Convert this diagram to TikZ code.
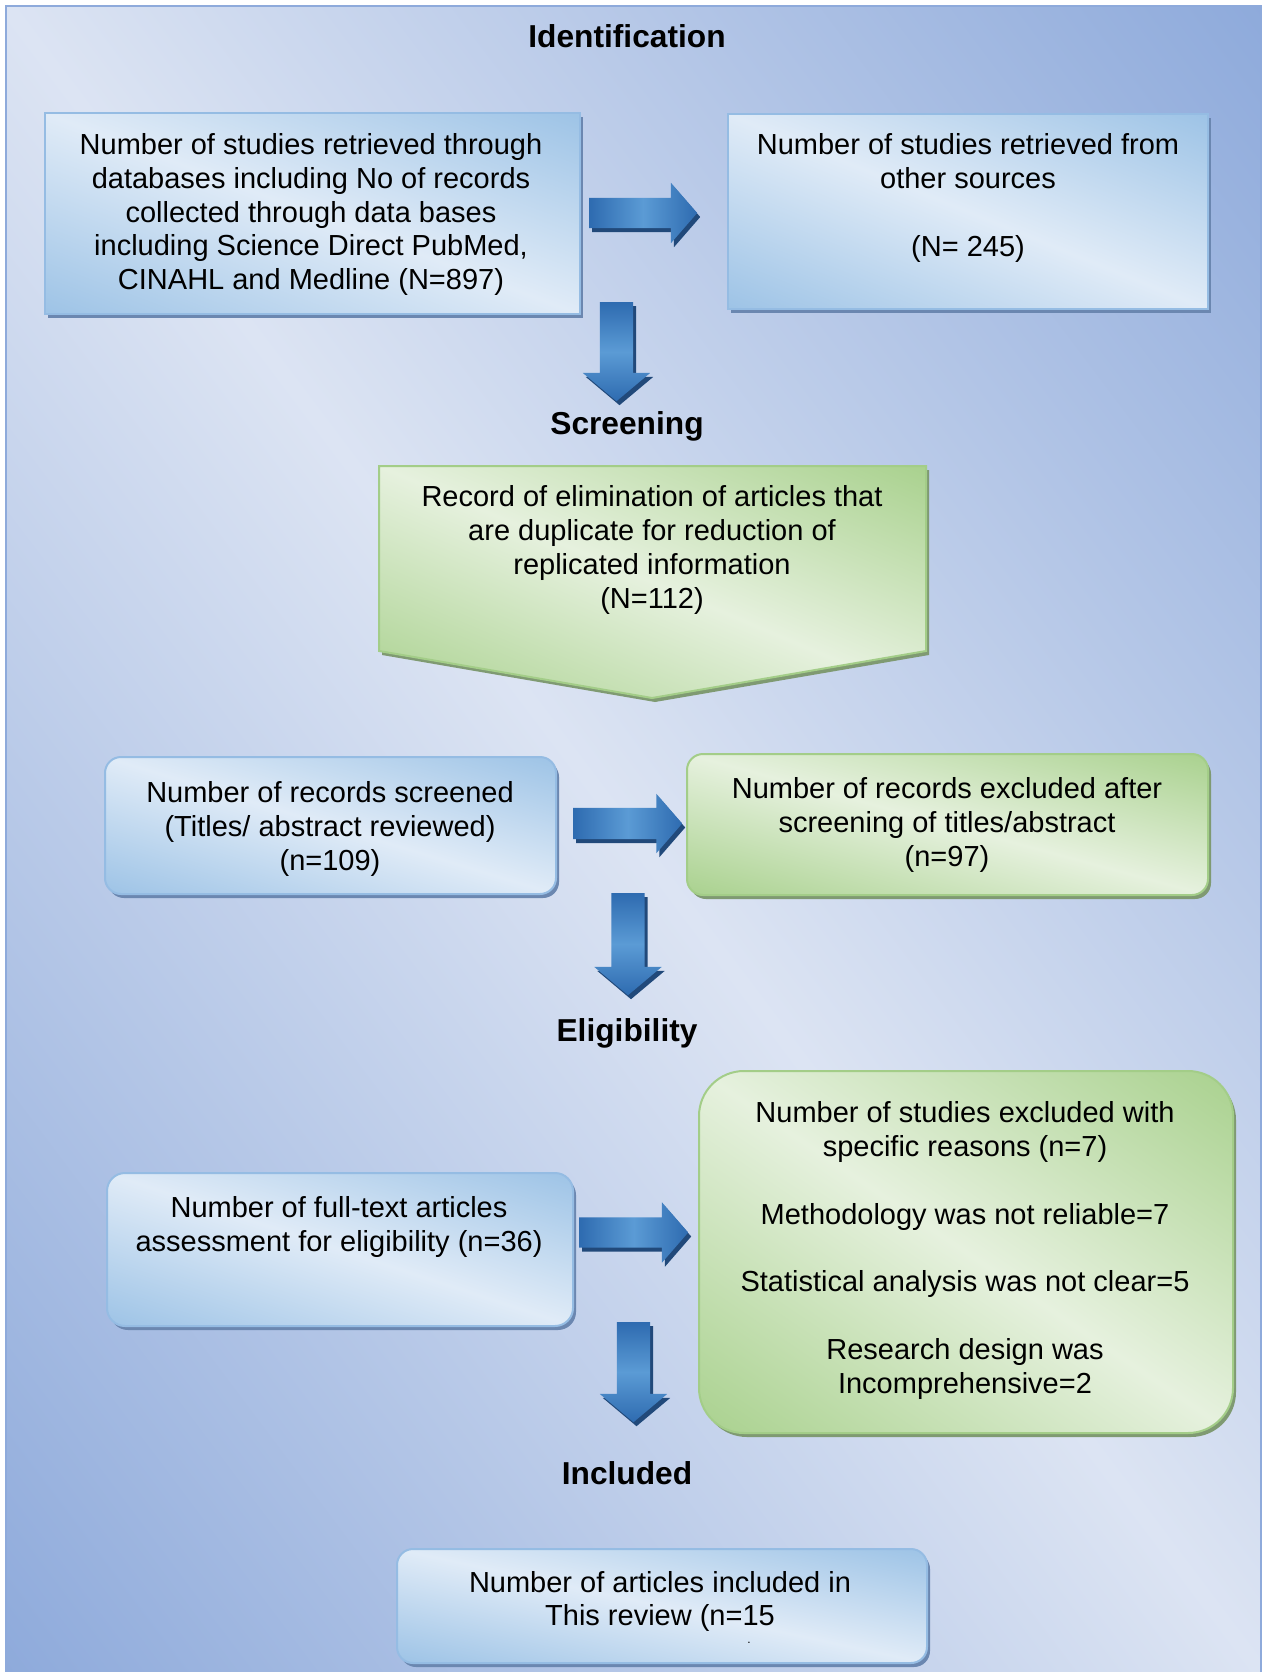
\documentclass[tikz,border=0pt]{standalone}
\usepackage{fontspec}
\setmainfont{Liberation Sans}
\usetikzlibrary{shapes.arrows,shadows}

\definecolor{bgdark}{HTML}{8EAADB}
\definecolor{blueline}{HTML}{95BCE3}
\definecolor{blueshadow}{HTML}{6B87B0}
\definecolor{greenline}{HTML}{A3CD88}
\definecolor{greenshadow}{HTML}{7F9A72}
\definecolor{arrowdark}{HTML}{2E6BB0}
\definecolor{arrowlight}{HTML}{5B9BD5}
\definecolor{arrowshadow}{HTML}{21497A}

% diagonal fills: light along the top-left/bottom-right diagonal,
% darkening linearly towards the top-right and bottom-left corners
% (d = |x+y-100|/50 over the fitted 25bp..75bp square)
\pgfdeclarefunctionalshading{bgshade}{\pgfpoint{0bp}{0bp}}{\pgfpoint{100bp}{100bp}}{}{
  add 100 sub abs 50 div
  dup -0.306 mul 0.863 add exch
  dup -0.227 mul 0.894 add exch
  -0.094 mul 0.953 add}
\pgfdeclarefunctionalshading{blueshade}{\pgfpoint{0bp}{0bp}}{\pgfpoint{100bp}{100bp}}{}{
  add 100 sub abs 50 div
  dup -0.262 mul 0.878 add exch
  dup -0.157 mul 0.922 add exch
  -0.067 mul 0.969 add}
\pgfdeclarefunctionalshading{greenshade}{\pgfpoint{0bp}{0bp}}{\pgfpoint{100bp}{100bp}}{}{
  add 100 sub abs 50 div
  dup -0.239 mul 0.902 add exch
  dup -0.125 mul 0.945 add exch
  -0.314 mul 0.871 add}

\newcommand\bodyfont{\fontsize{29pt}{33.8pt}\selectfont}
\newcommand\stagefont{\fontsize{31.7pt}{36pt}\selectfont\bfseries}

\begin{document}
\begin{tikzpicture}[x=1pt,y=-1pt,
  boxshadow/.style={drop shadow={shadow xshift=3pt,shadow yshift=-4pt,fill=#1,opacity=1}},
  bluebox/.style={draw=blueline,line width=2pt,inner sep=0pt,
    shade,shading=blueshade,boxshadow=blueshadow},
  greenbox/.style={draw=greenline,line width=2pt,inner sep=0pt,
    shade,shading=greenshade,boxshadow=greenshadow},
  txt/.style={font=\bodyfont,align=center,inner sep=0pt,text=black},
  stage/.style={font=\stagefont,inner sep=0pt,text=black},
  rarrow/.style={single arrow,anchor=tail,inner sep=15pt,single arrow head extend=15pt,
    single arrow tip angle=98,minimum height=108pt,
    left color=arrowdark,right color=arrowdark,middle color=arrowlight,
    boxshadow=arrowshadow},
  darrow/.style={single arrow,shape border rotate=270,anchor=tail,inner sep=16.5pt,
    single arrow head extend=17pt,single arrow tip angle=100,minimum height=100pt,
    top color=arrowdark,bottom color=arrowdark,middle color=arrowlight,
    boxshadow=arrowshadow}]

\useasboundingbox (0,0) rectangle (1263,1672);
\fill[white] (0,0) rectangle (1263,1672);

% page background with its frame
\shade[shading=bgshade] (6,6) rectangle (1261,1672);
\draw[bgdark,line width=1.5pt] (6,1672) -- (6,6) -- (1261,6) -- (1261,1672);

% stage headings
\node[stage] (hid) at (627,36) {Identification};
\node[stage] (hscr) at (627,426) {Screening};
\node[stage] (helig) at (627,1033) {Eligibility};
\node[stage] (hinc) at (627,1473) {Included};

% identification
\node[bluebox,minimum width=535pt,minimum height=201pt] (b1) at (312.5,213.5) {};
\node[txt] (t1) at (311,214.5) {Number of studies retrieved through\\databases including No of records\\collected through data bases\\including Science Direct PubMed,\\CINAHL and Medline (N=897)};

\node[bluebox,minimum width=480pt,minimum height=195pt] (b2) at (968,211.5) {};
\node[txt] (t2) at (968,198) {Number of studies retrieved from\\other sources\\[33.8pt](N= 245)};

\node[rarrow] (a1) at (589,213) {};
\node[darrow,minimum height=99pt] (d1) at (616.5,302) {};

% screening
\path[greenbox] (379,466) -- (926,466) -- (926,651) -- (652,698) -- (379,651) -- cycle;
\coordinate (p1) at (652,547);
\node[txt] (t3) at (652,550) {Record of elimination of articles that\\are duplicate for reduction of\\replicated information\\(N=112)};

\node[bluebox,rounded corners=16pt,minimum width=451pt,minimum height=137pt] (b3) at (330.5,825.5) {};
\node[txt] (t4) at (330,829) {Number of records screened\\(Titles/ abstract reviewed)\\(n=109)};

\node[greenbox,rounded corners=16pt,minimum width=521pt,minimum height=141pt] (b4) at (947.5,824.5) {};
\node[txt] (t5) at (947,825) {Number of records excluded after\\screening of titles/abstract\\(n=97)};

\node[rarrow,minimum height=109pt,inner sep=15.5pt,single arrow head extend=14pt] (a2) at (573,823.5) {};
\node[darrow,minimum height=102pt] (d2) at (628,893) {};

% eligibility
\node[bluebox,rounded corners=18pt,minimum width=466pt,minimum height=153pt] (b5) at (340,1249.5) {};
\node[txt] (t6) at (339,1227) {Number of full-text articles\\assessment for eligibility (n=36)};

\node[greenbox,rounded corners=45pt,minimum width=534pt,minimum height=362pt] (b6) at (966,1252) {};
\node[txt] (t7) at (965,1250.5) {Number of studies excluded with\\specific reasons (n=7)\\[33.8pt]Methodology was not reliable=7\\[33.8pt]Statistical analysis was not clear=5\\[33.8pt]Research design was\\Incomprehensive=2};

\node[rarrow,minimum height=109pt] (a3) at (579,1232.5) {};
\node[darrow,minimum height=100pt] (d3) at (633.5,1322) {};

% included
\node[bluebox,rounded corners=16pt,minimum width=530pt,minimum height=114pt] (b7) at (662,1606) {};
\node[txt] (t8) at (660,1601.5) {Number of articles included in\\This review (n=15};
\node[font=\fontsize{12pt}{12pt}\selectfont,inner sep=0pt,anchor=base] (dot) at (749,1643) {.};

\end{tikzpicture}
\end{document}
